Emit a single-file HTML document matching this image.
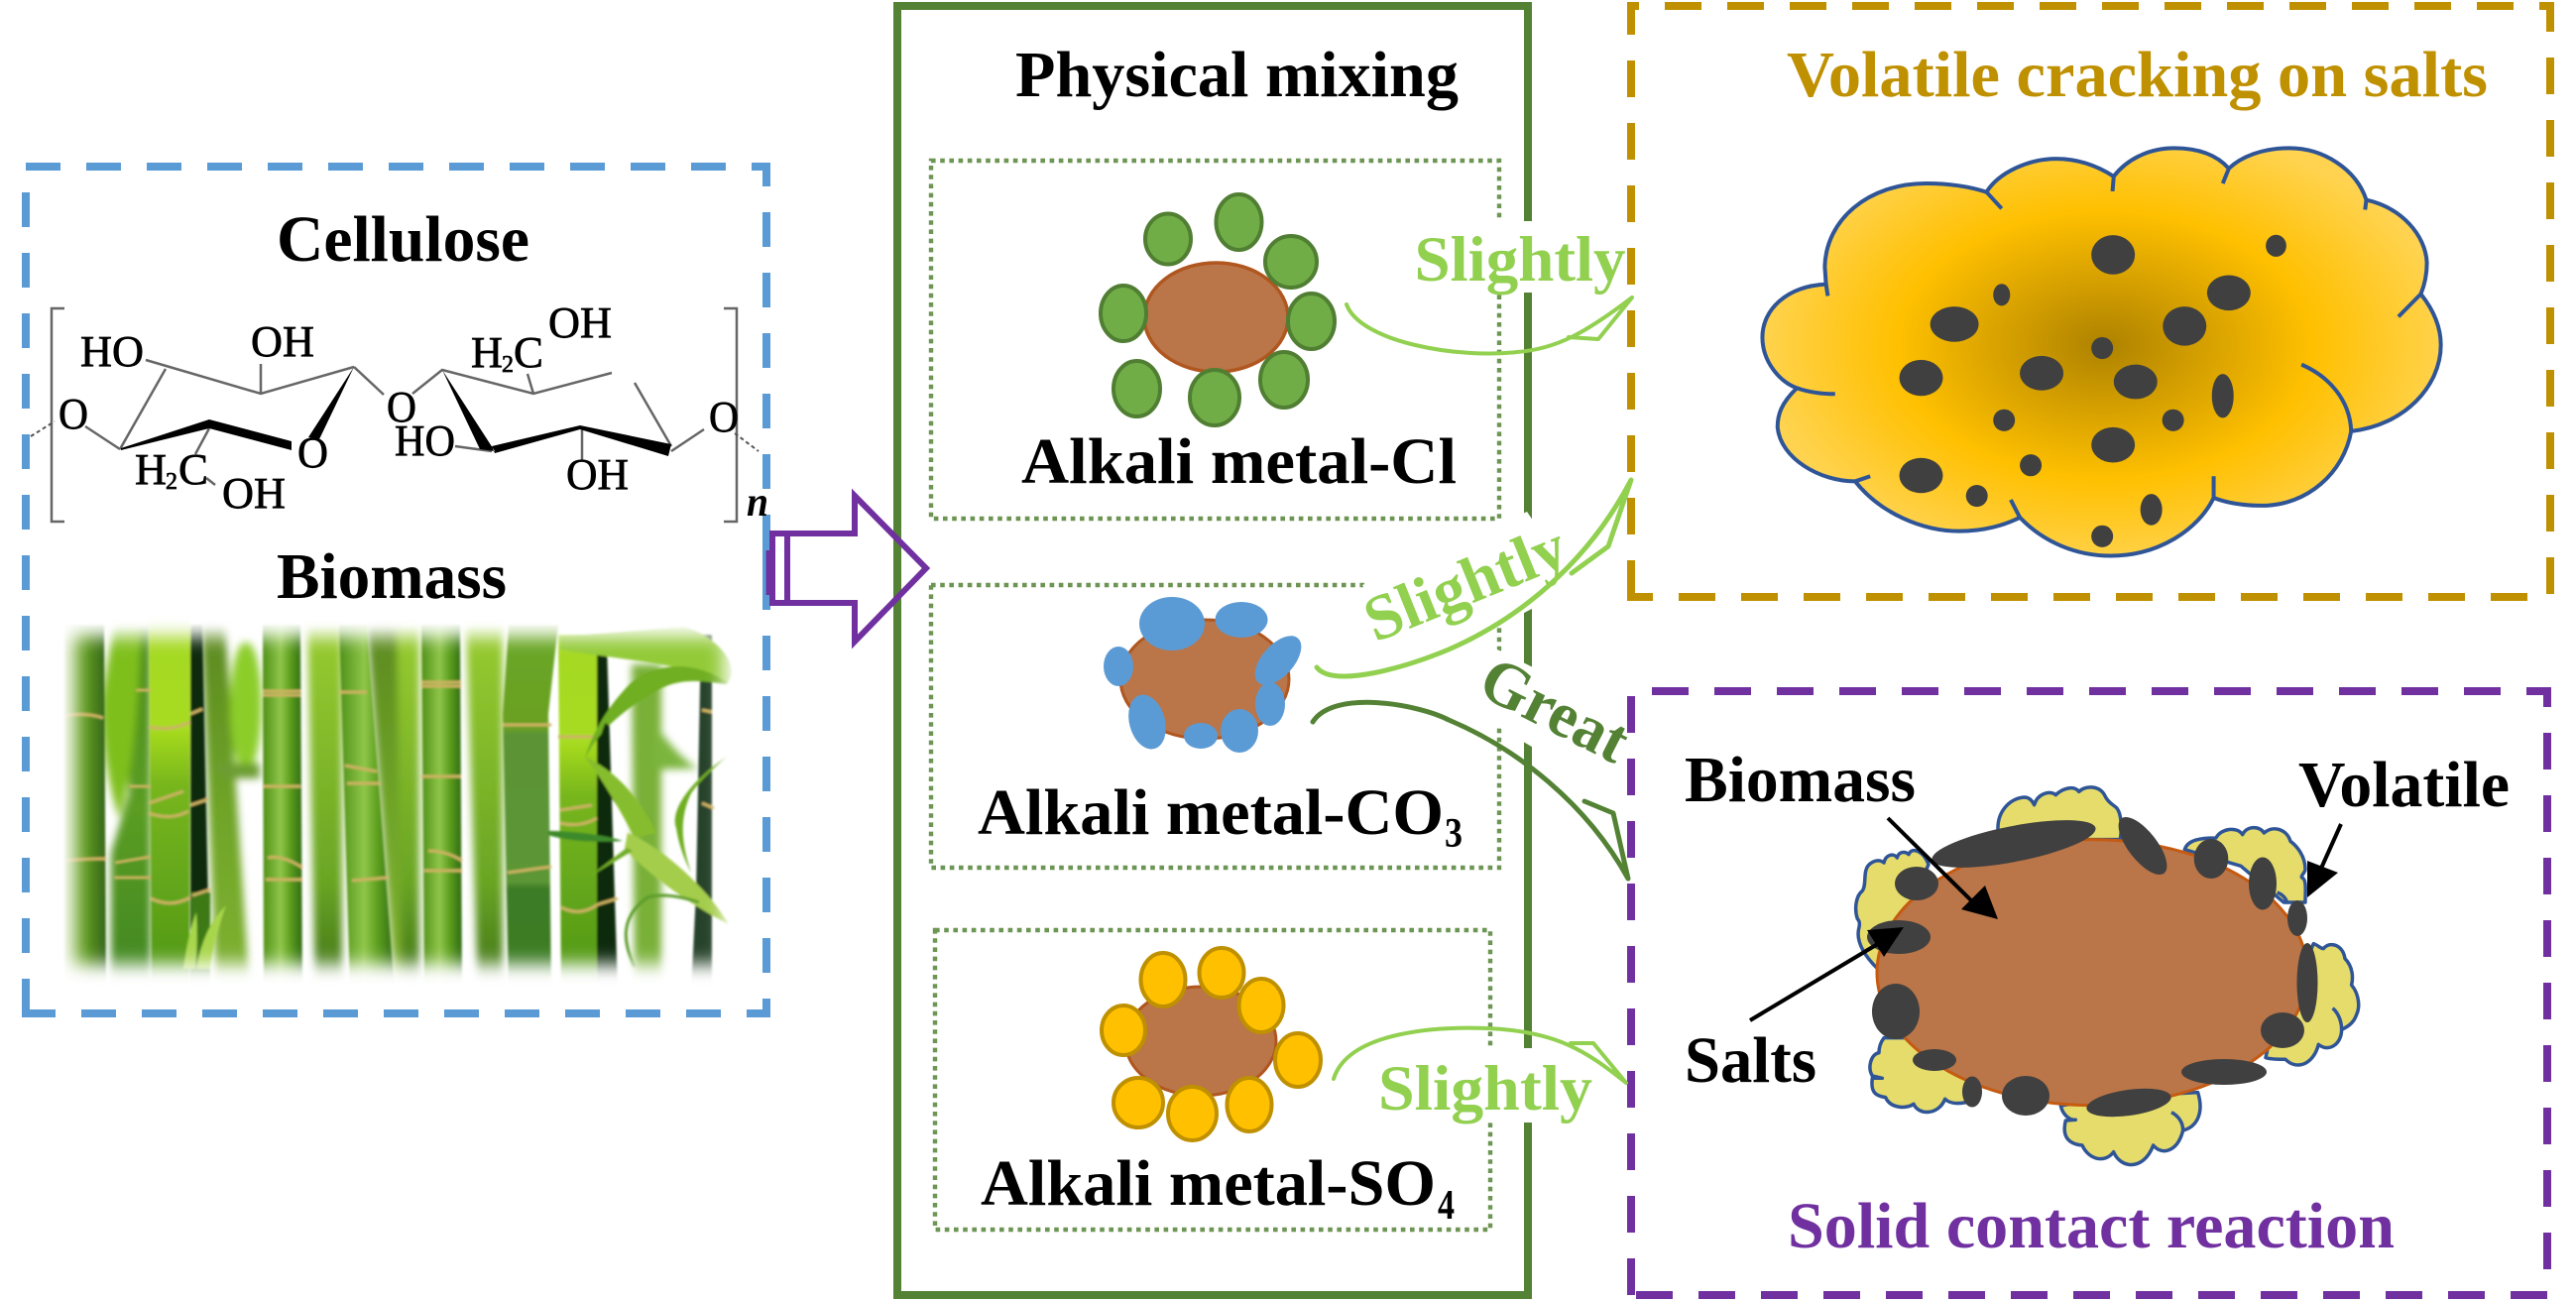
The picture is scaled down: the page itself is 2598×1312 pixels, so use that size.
<!DOCTYPE html>
<html lang="en"><head><meta charset="utf-8"><title>Biomass salts diagram</title>
<style>html,body{margin:0;padding:0;background:#fff;width:2598px;height:1312px;overflow:hidden}svg{display:block}
text{font-family:"Liberation Serif",serif;font-weight:bold}
.c{font-weight:normal;font-size:44px;stroke:#000;stroke-width:.7px}
.b{stroke:#666;stroke-width:2.5;fill:none}
.k{fill:#404040}
</style></head><body>
<svg xmlns="http://www.w3.org/2000/svg" width="2598" height="1312" viewBox="0 0 2598 1312">
<defs>
<linearGradient id="s1"><stop offset="0" stop-color="#8fbb50"/><stop offset=".5" stop-color="#5f9a20"/><stop offset="1" stop-color="#36661a"/></linearGradient>
<linearGradient id="s2"><stop offset="0" stop-color="#5da018"/><stop offset=".35" stop-color="#8ecb1c"/><stop offset=".8" stop-color="#5ea518"/><stop offset="1" stop-color="#2f6d12"/></linearGradient>
<linearGradient id="s3"><stop offset="0" stop-color="#4e8f16"/><stop offset=".45" stop-color="#8fc64a"/><stop offset=".7" stop-color="#5c9e1e"/><stop offset="1" stop-color="#2f6a14"/></linearGradient>
<linearGradient id="s4" x1="0" y1="0" x2="0" y2="1"><stop offset="0" stop-color="#6ba828"/><stop offset=".28" stop-color="#6aa022"/><stop offset=".3" stop-color="#5b9436"/><stop offset=".7" stop-color="#5b9636"/><stop offset=".72" stop-color="#3e7c26"/><stop offset="1" stop-color="#3a7a22"/></linearGradient>
<linearGradient id="s5" x1="0" y1="0" x2="0" y2="1"><stop offset="0" stop-color="#a4d820"/><stop offset=".3" stop-color="#a8dc20"/><stop offset=".45" stop-color="#78b61c"/><stop offset="1" stop-color="#4e9618"/></linearGradient>
<linearGradient id="s6" x1="0" y1="0" x2="0" y2="1"><stop offset="0" stop-color="#5c8a20"/><stop offset=".5" stop-color="#6fa428"/><stop offset="1" stop-color="#80b232"/></linearGradient>
<linearGradient id="s7" x1="0" y1="0" x2="0" y2="1"><stop offset="0" stop-color="#98cc30"/><stop offset=".7" stop-color="#6aa524"/><stop offset="1" stop-color="#3e7018"/></linearGradient>
<linearGradient id="s8" x1="0" y1="0" x2="0" y2="1"><stop offset="0" stop-color="#4a8a1c"/><stop offset=".5" stop-color="#5b9d22"/><stop offset="1" stop-color="#3f8520"/></linearGradient>
<linearGradient id="s9" x1="0" y1="0" x2="0" y2="1"><stop offset="0" stop-color="#6ea028"/><stop offset="1" stop-color="#4f8c20"/></linearGradient>
<radialGradient id="rg" gradientUnits="userSpaceOnUse" cx="790" cy="880" r="570"><stop offset="0" stop-color="#AE8200"/><stop offset=".6" stop-color="#FFC000"/><stop offset="1" stop-color="#FFD34F"/></radialGradient>
<filter id="bl" x="-30%" y="-5%" width="160%" height="110%"><feGaussianBlur stdDeviation="4"/></filter>
<filter id="bs" x="-10%" y="-5%" width="120%" height="110%"><feGaussianBlur stdDeviation="1"/></filter>
<filter id="bm" x="-10%" y="-10%" width="120%" height="120%"><feGaussianBlur stdDeviation="9"/></filter>
<mask id="vm" maskUnits="userSpaceOnUse" x="30" y="600" width="740" height="420"><rect x="30" y="600" width="740" height="420" fill="#000"/><rect x="74" y="642" width="656" height="330" fill="#fff" filter="url(#bm)"/></mask>
</defs>

<!-- blue box -->
<path d="M26 1022V168H773V1022Z" fill="none" stroke="#5B9BD5" stroke-width="8" stroke-dasharray="35 26"/>
<rect x="769" y="552" width="8" height="30" fill="#5B9BD5"/>

<!-- chemistry -->
<text x="279" y="263" font-size="66" textLength="255" lengthAdjust="spacingAndGlyphs">Cellulose</text>
<text x="279" y="603" font-size="66" textLength="232" lengthAdjust="spacingAndGlyphs">Biomass</text>
<path class="b" d="M65 311H52V526H65M730 311H743V526H730"/>
<path class="b" d="M147 363L263 397L357 370M167 372L121 453M86 430L121 453M263 367V397M357 370L387 398M211 432L197 458M208 482L217 489M416 397L446 373L538 397L617 376M532 377L538 397M640 386L677 450M459 450L496 455M587 433V465M677 455L710 433"/>
<path d="M31 440L55 425M741 437L765 455" fill="none" stroke="#555" stroke-width="2" stroke-dasharray="4 3"/>
<path d="M357 370L311 441L322 443ZM122 452L211 423L294 445V454L211 432L122 454ZM446 373L484 453L499 455ZM496 450L585 429L677 448L674 460L585 433L499 457Z" fill="#000"/>
<text class="c" x="81" y="369" textLength="64" lengthAdjust="spacingAndGlyphs">HO</text>
<text class="c" x="253" y="359" textLength="64" lengthAdjust="spacingAndGlyphs">OH</text>
<text class="c" x="553" y="340" textLength="64" lengthAdjust="spacingAndGlyphs">OH</text>
<text class="c" x="475" y="370" textLength="32" lengthAdjust="spacingAndGlyphs">H</text><text class="c" x="506" y="375" style="font-size:24px">2</text><text class="c" x="518" y="370" textLength="30" lengthAdjust="spacingAndGlyphs">C</text>
<text class="c" x="59" y="432" textLength="30" lengthAdjust="spacingAndGlyphs">O</text>
<text class="c" x="300" y="471" textLength="31" lengthAdjust="spacingAndGlyphs">O</text>
<text class="c" x="390" y="425" textLength="30" lengthAdjust="spacingAndGlyphs">O</text>
<text class="c" x="398" y="459" textLength="61" lengthAdjust="spacingAndGlyphs">HO</text>
<text class="c" x="715" y="435" textLength="30" lengthAdjust="spacingAndGlyphs">O</text>
<text class="c" x="136" y="488" textLength="32" lengthAdjust="spacingAndGlyphs">H</text><text class="c" x="167" y="493" style="font-size:24px">2</text><text class="c" x="180" y="488" textLength="30" lengthAdjust="spacingAndGlyphs">C</text>
<text class="c" x="224" y="512" textLength="64" lengthAdjust="spacingAndGlyphs">OH</text>
<text class="c" x="571" y="493" textLength="63" lengthAdjust="spacingAndGlyphs">OH</text>
<text x="753" y="520" font-size="42" font-style="italic" textLength="22" lengthAdjust="spacingAndGlyphs">n</text>

<!-- bamboo -->
<g mask="url(#vm)">
<g filter="url(#bl)">
<path d="M130 630H152V1000H112V860L130 800Z" fill="url(#s8)"/>
<path d="M115 630H143C140 700 135 780 120 825C105 780 100 720 103 700Z" fill="#7fbf1e"/>
<path d="M203 630H227L252 1000H218Z" fill="url(#s6)"/>
<ellipse cx="248" cy="712" rx="16" ry="66" fill="#8ccd2a"/>
<path d="M215 770H262V785H225Z" fill="#6c9c30"/>
<path d="M310 630H345V1000H318Z" fill="url(#s7)"/>
<path d="M370 630H405L424 1000H398Z" fill="url(#s6)"/>
<path d="M400 630H423V1000H405Z" fill="url(#s7)"/>
<path d="M470 630H507V1000H482Z" fill="url(#s7)"/>
<path d="M637 670H667V1000H640Z" fill="#79b038"/>
<path d="M660 730Q690 770 705 775L660 776Z" fill="#7cb53c"/>
</g>
<g filter="url(#bs)">
<path d="M65 630H105L107 1000H65Z" fill="url(#s1)"/>
<path d="M192 630H204L212 1000H192Z" fill="#10290b"/>
<path d="M193 900H212V1000H193Z" fill="#3c7a18"/>
<path d="M150 620H192L191 1000H153Z" fill="url(#s5)"/>
<path d="M265 630H303L305 1000H266Z" fill="url(#s3)"/>
<path d="M342 630H370L398 1000H353Z" fill="url(#s3)"/>
<path d="M425 630H464L466 1000H428Z" fill="url(#s3)"/>
<path d="M513 630H563L553 720L556 1000H513L507 720Z" fill="url(#s4)"/>
<path d="M563 640H602V1000H566Z" fill="url(#s5)"/>
<path d="M602 650H612L623 1000H602Z" fill="#0e2b0a"/>
<path d="M707 640H718V1000H697L702 900Z" fill="#28422a"/>
<path d="M65 722Q85 718 104 724M65 868Q85 866 107 866M137 696H152M130 793H152M116 870L152 864M115 885L152 885M150 733Q172 738 192 728M150 810L185 798M150 820Q172 828 190 818M152 906Q172 916 192 905M192 720L204 715M192 812L210 806M194 903L212 897M265 697H303M265 701H303M265 793H303M270 865Q285 862 305 875M268 887H305M342 698H370M348 772L380 778M350 790H384M355 888L392 885M425 688H465M425 692H465M425 783H465M432 858Q450 858 466 868M428 878H466M507 731H556M512 880L556 874M563 743H600M565 817L597 812M565 830Q585 835 602 825M566 915Q585 925 603 912M603 912L623 906M708 716L718 718M708 810L720 815" fill="none" stroke="#cdb262" stroke-width="3"/>
<path d="M565 642L690 632C720 640 750 670 733 690C690 668 620 665 565 655Z" fill="#93ca38"/>
<path d="M733 688C700 665 660 668 635 690C610 715 595 745 590 765C605 735 630 715 665 695C690 682 715 688 733 690Z" fill="#6fae22"/>
<path d="M612 730C600 760 605 790 625 812" fill="none" stroke="#0e2b0a" stroke-width="4"/>
<path d="M590 763C610 790 630 825 640 845L662 840C640 795 615 775 590 763Z" fill="#86bd2e"/>
<path d="M633 840C660 850 710 890 735 932C700 915 650 880 630 855Z" fill="#a4cd4c"/>
<path d="M553 838C580 838 610 842 628 848C600 850 570 848 553 842Z" fill="#3e8a2c"/>
<path d="M590 887L632 855L638 858Z" fill="#70ac28"/>
<path d="M733 763C700 785 675 815 682 835C685 855 692 870 697 880C687 850 685 825 697 800C708 785 722 773 733 763Z" fill="#6fae22"/>
<path d="M640 975C628 950 625 925 653 905C670 900 690 905 705 910" fill="none" stroke="#5c9c2c" stroke-width="3"/>
<path d="M185 977Q190 940 198 920Q200 950 197 977ZM198 977Q205 935 228 913Q215 950 212 977Z" fill="#a8d64c"/>
</g>
</g>

<!-- green main box -->
<rect x="905" y="6" width="636" height="1300" fill="none" stroke="#548235" stroke-width="8"/>
<g fill="none" stroke="#548235" stroke-width="4.4" stroke-dasharray="4.6 4.6" opacity=".85">
<rect x="939" y="162" width="573" height="361"/>
<rect x="939" y="590" width="573" height="285"/>
<rect x="943" y="938" width="560" height="302"/>
</g>

<!-- purple block arrow -->
<path d="M779 538H862V500L934 573L862 647V608H779Z" fill="none" stroke="#7030A0" stroke-width="6"/>
<path d="M794 538V608" stroke="#7030A0" stroke-width="6"/>
<path d="M776 555V600" stroke="#7030A0" stroke-width="7"/>

<text x="1024" y="97" font-size="66" textLength="447" lengthAdjust="spacingAndGlyphs">Physical mixing</text>

<!-- group 1 -->
<ellipse cx="1226.5" cy="320" rx="72.5" ry="55" fill="#BA7548" stroke="#B0561F" stroke-width="3.5"/>
<g fill="#70AD47" stroke="#507E32" stroke-width="4">
<ellipse cx="1178" cy="241" rx="23" ry="25.5"/><ellipse cx="1249.5" cy="224" rx="23" ry="28"/><ellipse cx="1302" cy="264" rx="26" ry="26"/><ellipse cx="1133" cy="316" rx="23" ry="28"/><ellipse cx="1322.5" cy="324" rx="23.5" ry="28"/><ellipse cx="1146.5" cy="392" rx="23.5" ry="28"/><ellipse cx="1225" cy="401" rx="25" ry="28"/><ellipse cx="1295" cy="383" rx="24" ry="28"/>
</g>
<text x="1030" y="487" font-size="66" textLength="439" lengthAdjust="spacingAndGlyphs">Alkali metal-Cl</text>

<!-- group 2 -->
<ellipse cx="1215" cy="685" rx="85" ry="60" fill="#BA7548" stroke="#B0561F" stroke-width="3"/>
<g fill="#5B9BD5">
<ellipse cx="1182" cy="629" rx="33" ry="27"/><ellipse cx="1252" cy="625" rx="26.5" ry="18"/><ellipse cx="1128" cy="672" rx="15" ry="20"/><ellipse cx="1289" cy="666" rx="16" ry="30" transform="rotate(42 1289 666)"/><ellipse cx="1281" cy="710" rx="15" ry="22"/><ellipse cx="1250" cy="737" rx="19" ry="22"/><ellipse cx="1211" cy="742" rx="17" ry="13"/><ellipse cx="1157" cy="728" rx="18" ry="28" transform="rotate(-15 1157 728)"/>
</g>
<text x="986" y="841" font-size="66" textLength="470" lengthAdjust="spacingAndGlyphs">Alkali metal-CO</text>
<text x="1457" y="854" font-size="42" textLength="18" lengthAdjust="spacingAndGlyphs">3</text>

<!-- group 3 -->
<ellipse cx="1211" cy="1050" rx="76" ry="55" fill="#BA7548" stroke="#B0561F" stroke-width="3"/>
<g fill="#FFC000" stroke="#BF9000" stroke-width="4">
<ellipse cx="1173" cy="988" rx="22.5" ry="27"/><ellipse cx="1232" cy="981" rx="22.5" ry="25"/><ellipse cx="1272" cy="1014" rx="22.5" ry="27"/><ellipse cx="1133" cy="1039" rx="22" ry="25"/><ellipse cx="1309" cy="1069" rx="23" ry="27"/><ellipse cx="1148" cy="1112" rx="25" ry="25"/><ellipse cx="1202.5" cy="1123" rx="24.5" ry="27"/><ellipse cx="1260" cy="1114" rx="22.5" ry="27"/>
</g>
<text x="989" y="1215" font-size="66" textLength="459" lengthAdjust="spacingAndGlyphs">Alkali metal-SO</text>
<text x="1450" y="1229" font-size="42" textLength="17" lengthAdjust="spacingAndGlyphs">4</text>

<!-- gold box -->
<path d="M1645 602V6H2572V602Z" fill="none" stroke="#BF9000" stroke-width="8" stroke-dasharray="37 26"/>
<text x="1802" y="97" font-size="66" fill="#BF9000" textLength="707" lengthAdjust="spacingAndGlyphs">Volatile cracking on salts</text>
<g transform="translate(1640,0) scale(.6109,.3953)">
<path d="M330 725C265 730 225 790 225 860C225 925 255 975 282 990C255 1030 250 1060 250 1090C255 1170 320 1228 378 1228C420 1310 490 1355 550 1355C590 1355 625 1340 650 1320C690 1385 745 1418 800 1418C880 1418 945 1350 970 1270C995 1285 1025 1290 1050 1290C1125 1290 1185 1205 1197 1100C1285 1085 1345 985 1345 880C1345 830 1330 785 1312 750C1320 720 1322 695 1322 670C1320 600 1280 530 1222 510C1205 430 1150 378 1095 378C1050 378 1015 400 995 430C975 395 945 378 905 378C860 378 825 410 805 450C775 420 745 405 710 405C665 405 615 440 595 490C565 475 530 468 495 468C400 468 330 560 328 680Z" fill="url(#rg)" stroke="#2F5597" stroke-width="4" vector-effect="non-scaling-stroke"/>
<path d="M330 725L333 755M282 990Q310 1005 345 1005M378 1228L403 1215M635 1275L650 1320M970 1215V1270M1115 930C1160 960 1195 1020 1197 1100M1312 750L1275 808M1222 510L1220 535M985 468L995 430M803 488L805 450M595 490L620 532" fill="none" stroke="#2F5597" stroke-width="4" vector-effect="non-scaling-stroke"/>
<g class="k">
<ellipse cx="804" cy="650" rx="36" ry="50"/><ellipse cx="1073" cy="627" rx="17" ry="28"/><ellipse cx="620" cy="752" rx="14" ry="28"/><ellipse cx="995" cy="747" rx="36" ry="45"/><ellipse cx="542" cy="827" rx="40" ry="45"/><ellipse cx="922" cy="832" rx="36" ry="50"/><ellipse cx="786" cy="888" rx="18" ry="28"/><ellipse cx="487" cy="964" rx="36" ry="46"/><ellipse cx="686" cy="952" rx="36" ry="44"/><ellipse cx="841" cy="974" rx="36" ry="44"/><ellipse cx="985" cy="1010" rx="18" ry="56"/><ellipse cx="624" cy="1072" rx="18" ry="28"/><ellipse cx="903" cy="1072" rx="18" ry="28"/><ellipse cx="804" cy="1135" rx="36" ry="45"/><ellipse cx="668" cy="1187" rx="18" ry="28"/><ellipse cx="487" cy="1213" rx="36" ry="45"/><ellipse cx="579" cy="1265" rx="18" ry="28"/><ellipse cx="867" cy="1300" rx="18" ry="40"/><ellipse cx="786" cy="1368" rx="18" ry="28"/>
</g></g>

<!-- purple box -->
<path d="M1645 1306V697H2569V1306Z" fill="none" stroke="#7030A0" stroke-width="8" stroke-dasharray="37 26"/>
<g transform="translate(1860,790) scale(.3333)">
<g fill="#E5DC6B" stroke="#2F5597" stroke-width="3.5" stroke-linejoin="round">
<path vector-effect="non-scaling-stroke" d="M465 135C465 85 500 45 545 42C560 42 570 55 575 65C585 30 625 20 640 35C660 15 695 5 710 25C730 5 775 5 790 40C800 60 815 65 825 75C840 95 840 140 835 170L465 170Z"/>
<path vector-effect="non-scaling-stroke" d="M255 245C240 205 205 190 195 215C185 205 165 205 160 225C150 210 125 215 120 240C100 225 70 240 65 265C60 290 65 310 55 325C35 340 30 380 40 410C50 420 45 430 45 435C35 470 50 510 100 560L200 380Z"/>
<path vector-effect="non-scaling-stroke" d="M1030 200C1040 170 1080 165 1125 165C1140 135 1190 130 1205 155C1220 125 1260 130 1270 150C1300 125 1340 140 1350 175C1370 190 1395 220 1395 260C1395 270 1380 280 1385 285C1400 290 1395 330 1395 360L1330 360L1200 250Z"/>
<path vector-effect="non-scaling-stroke" d="M1420 485C1435 490 1440 500 1450 500C1470 475 1510 490 1515 530C1540 555 1540 590 1535 610C1560 640 1560 680 1550 700C1540 730 1515 740 1505 745C1505 790 1465 815 1435 790C1420 850 1370 870 1335 835C1320 835 1290 835 1275 830L1300 720L1370 600Z"/>
<path vector-effect="non-scaling-stroke" d="M120 770C105 790 105 810 105 815C80 820 70 860 85 885L115 892L85 892C80 930 90 945 125 950C140 985 190 985 210 970C225 1005 285 1005 305 955C320 970 345 970 370 965L380 900L190 770Z"/>
<path vector-effect="non-scaling-stroke" d="M655 975C660 1000 680 1020 700 1018L670 1020C660 1060 670 1090 720 1095C740 1140 790 1150 815 1115C835 1165 905 1175 935 1095C965 1130 1010 1110 1025 1050C1065 1040 1090 1000 1070 935L800 950Z"/>
<path vector-effect="non-scaling-stroke" fill="none" d="M1478 680C1495 695 1505 720 1505 745M990 995C1010 1005 1025 1025 1025 1050M1310 330C1325 335 1340 350 1340 365"/>
</g>
<ellipse cx="750" cy="572" rx="651" ry="402" fill="#BA7548" stroke="#C55A11" stroke-width="3" vector-effect="non-scaling-stroke"/>
</g>
<g class="k">
<ellipse cx="2031" cy="851" rx="84" ry="18" transform="rotate(-11 2031 851)"/>
<ellipse cx="2161" cy="853" rx="35" ry="14.5" transform="rotate(52 2161 853)"/>
<ellipse cx="2230" cy="866" rx="17.3" ry="20"/><ellipse cx="2282" cy="891" rx="14" ry="26.5"/><ellipse cx="2317" cy="926" rx="10" ry="18"/><ellipse cx="2327" cy="991" rx="10.5" ry="40"/><ellipse cx="2302" cy="1039" rx="22" ry="18"/><ellipse cx="2243" cy="1081" rx="43" ry="13"/>
<ellipse cx="2147" cy="1112" rx="43" ry="13" transform="rotate(-8 2147 1112)"/>
<ellipse cx="2043" cy="1105" rx="24" ry="20"/><ellipse cx="1989" cy="1101" rx="10" ry="15.5"/><ellipse cx="1951" cy="1069" rx="22" ry="11"/><ellipse cx="1912" cy="1020" rx="24" ry="28"/><ellipse cx="1915" cy="945" rx="32" ry="17"/><ellipse cx="1933" cy="891" rx="22" ry="17"/>
</g>
<path d="M1904 825L1995 915M2361 831L2339 880M1765 1029L1897 950" stroke="#000" stroke-width="4" fill="none"/>
<path d="M2015 927L2002 893L1978 917ZM2327 905V868L2358 880ZM1920 935L1883 938L1900 965Z" fill="#000"/>
<text x="1699" y="808" font-size="66" textLength="233" lengthAdjust="spacingAndGlyphs">Biomass</text>
<text x="2318" y="813" font-size="66" textLength="213" lengthAdjust="spacingAndGlyphs">Volatile</text>
<text x="1699" y="1091" font-size="66" textLength="133" lengthAdjust="spacingAndGlyphs">Salts</text>
<text x="1803" y="1258" font-size="66" fill="#7030A0" textLength="612" lengthAdjust="spacingAndGlyphs">Solid contact reaction</text>

<!-- label backgrounds -->
<path d="M1413 223H1607V295H1413ZM1385 1057H1610V1132H1385ZM1374 590L1540 516L1590 590L1420 680ZM1490 645L1640 720V790L1625 800L1480 715Z" fill="#fff"/>

<!-- curved arrows -->
<g fill="none" stroke-linecap="round" stroke-linejoin="round">
<path d="M1358 307C1372 345 1470 362 1530 355C1570 352 1600 335 1646 300L1612 342L1582 340" stroke="#92D050" stroke-width="4"/>
<path d="M1328 673C1345 695 1420 672 1461 655C1530 625 1600 570 1645 484L1622 551L1585 578" stroke="#92D050" stroke-width="5"/>
<path d="M1324 728C1345 695 1430 710 1461 726C1530 755 1600 810 1642 886L1627 820L1598 808" stroke="#548235" stroke-width="5"/>
<path d="M1345 1088C1360 1040 1450 1035 1500 1037C1570 1040 1600 1060 1640 1092L1607 1052L1584 1052" stroke="#92D050" stroke-width="4"/>
</g>

<text x="1426.5" y="283" font-size="65" fill="#92D050" textLength="213" lengthAdjust="spacingAndGlyphs">Slightly</text>
<text x="1390" y="1119" font-size="65" fill="#92D050" textLength="216" lengthAdjust="spacingAndGlyphs">Slightly</text>
<text transform="translate(1387 648) rotate(-22)" font-size="65" fill="#92D050" textLength="213" lengthAdjust="spacingAndGlyphs">Slightly</text>
<text transform="translate(1488 699) rotate(27)" font-size="65" fill="#548235" textLength="158" lengthAdjust="spacingAndGlyphs">Great</text>
</svg>
</body></html>
